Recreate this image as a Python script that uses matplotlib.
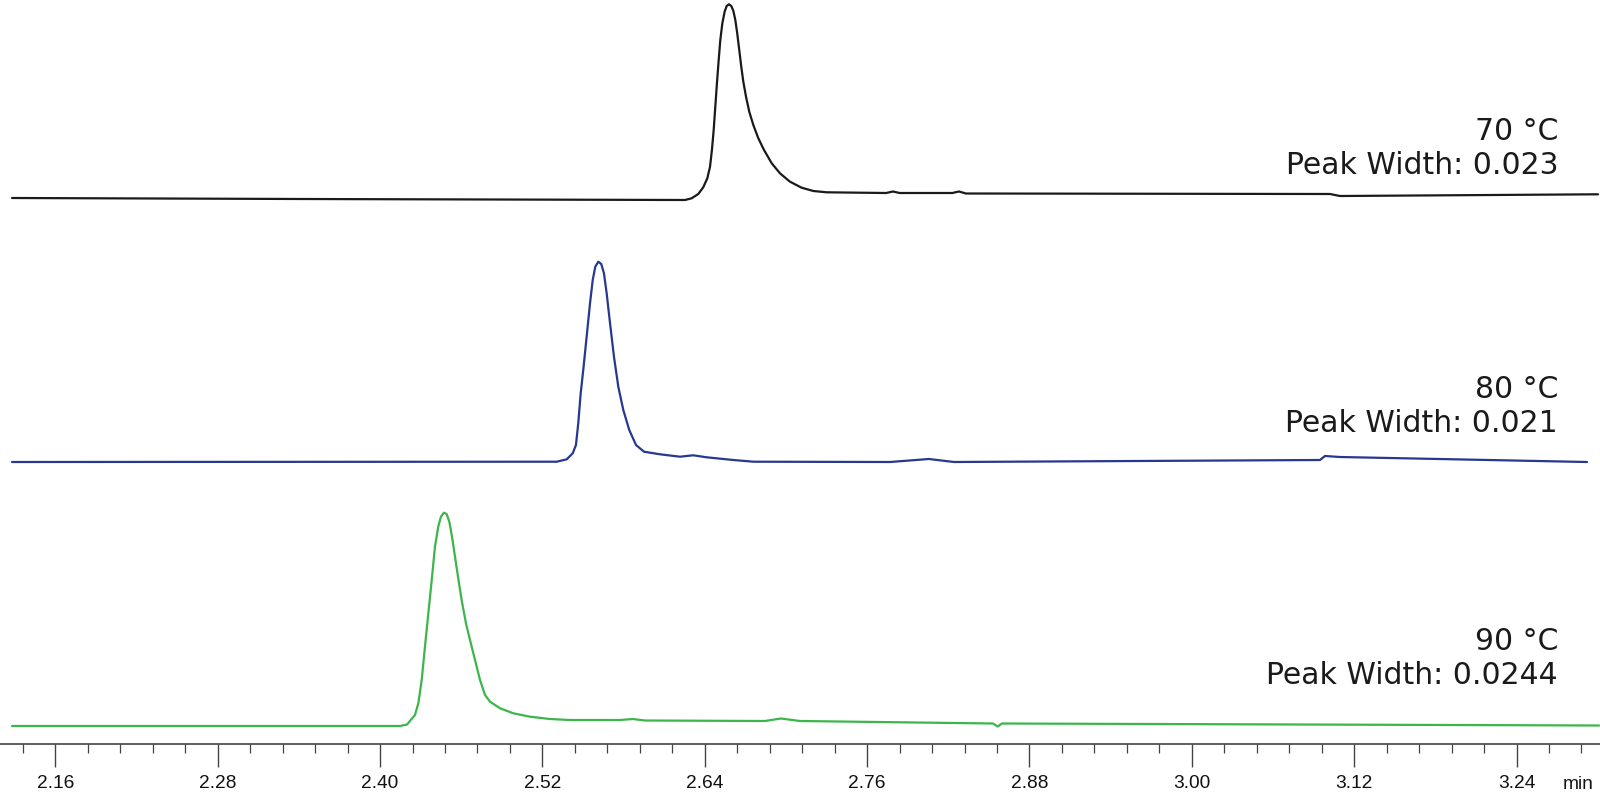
import matplotlib.pyplot as plt
from matplotlib.ticker import MultipleLocator, FormatStrFormatter

# --- data (time [min], signal [a.u.]) ---
t_70 = [2.128, 2.341, 2.6254, 2.6303, 2.6352, 2.6389, 2.6419, 2.6439, 2.6453,
        2.6466, 2.6478, 2.6490, 2.6503, 2.6515, 2.6530, 2.6547, 2.6562, 2.6579,
        2.6596, 2.6611, 2.6626, 2.6640, 2.6655, 2.6670, 2.6685, 2.6705, 2.6729,
        2.6759, 2.6796, 2.6838, 2.6895, 2.6956, 2.7030, 2.7116, 2.7202, 2.7301,
        2.7547, 2.7740, 2.7791, 2.7840, 2.8230, 2.8279, 2.8330, 3.1021, 3.1095,
        3.3002]
s_70 = [2, 1, 0, 1.7, 6, 12.7, 21.7, 33.3, 50,
        70, 93.3, 116.7, 140, 160, 176.7, 188.3, 194, 195.7,
        194, 189.3, 180, 166.7, 150, 133.3, 118.3, 103.3, 88.3,
        75, 61.7, 50, 36.7, 26.7, 18.3, 12.3, 9, 7.7,
        7.3, 7, 8.5, 7, 7, 8.5, 6.5, 6, 4,
        5.7]

t_80 = [2.128, 2.5306, 2.5380, 2.5424, 2.5448, 2.5465, 2.5483, 2.5502, 2.5527,
        2.5552, 2.5572, 2.5591, 2.5613, 2.5635, 2.5655, 2.5675, 2.5700, 2.5729,
        2.5761, 2.5798, 2.5842, 2.5892, 2.5951, 2.6069, 2.6217, 2.6315, 2.6414,
        2.6611, 2.6759, 2.7769, 2.8057, 2.8242, 3.0947, 3.0984, 3.1095, 3.2921]
s_80 = [0, 0.3, 2.7, 8.7, 17, 38.7, 68.7, 92, 125.3,
        158.7, 182, 195.3, 200.3, 198, 188.7, 168.7, 138.7, 105.3,
        75.3, 52, 32, 17, 10.3, 7.7, 5.3, 6.7, 4.7,
        2, 0.3, 0, 3, 0, 2, 6, 5, 0]

t_90 = [2.128, 2.4147, 2.4200, 2.4221, 2.4258, 2.4283, 2.4308, 2.4332, 2.4357,
        2.4382, 2.4406, 2.4430, 2.4450, 2.4472, 2.4492, 2.4512, 2.4532, 2.4554,
        2.4578, 2.4603, 2.4635, 2.4665, 2.4702, 2.4739, 2.4776, 2.4813, 2.4887,
        2.4985, 2.5108, 2.5256, 2.5404, 2.5773, 2.5869, 2.5958, 2.6845, 2.6963,
        2.7104, 2.8530, 2.8565, 2.8597, 3.3010]
s_90 = [0, 0, 1.5, 5, 11, 22.7, 46, 79.3, 112.7,
        146, 179.3, 199.3, 209.3, 213.3, 212, 204.3, 189.3, 169.3,
        147.7, 126, 102.7, 86, 66, 46, 31, 24.3, 17.7,
        12.7, 9.3, 7, 6, 6, 7, 5.5, 5, 7.5,
        5, 2.5, -0.5, 2.5, 0.5]

temps = ["70 °C", "80 °C", "90 °C"]
widths = ["0.023", "0.021", "0.0244"]

# --- layout / style ---
offsets = [544, 282, 18]
label_y = [(604, 570), (345.5, 312.5), (93.5, 59.5)]
colors = ["#1a1a1a", "#26388f", "#3cb54a"]
traces = [(t_70, s_70), (t_80, s_80), (t_90, s_90)]

fig = plt.figure(figsize=(16, 8), dpi=100)
ax = fig.add_axes([0, 56 / 800, 1, 744 / 800])

for (t, s), off, c in zip(traces, offsets, colors):
    ax.plot(t, [v + off for v in s], color=c, lw=1.6,
            solid_joinstyle="round", solid_capstyle="round")

for temp, w, (y1, y2) in zip(temps, widths, label_y):
    ax.text(1558 / 1600, y1, temp, transform=ax.get_yaxis_transform(),
            ha="right", va="baseline", fontsize=21.5, color="#1a1a1a",
            family="DejaVu Sans")
    ax.text(1558 / 1600, y2, "Peak Width: " + w, transform=ax.get_yaxis_transform(),
            ha="right", va="baseline", fontsize=21.5, color="#1a1a1a",
            family="DejaVu Sans")

ax.set_xlim(2.1191, 3.3017)
ax.set_ylim(0, 744)
for side in ("left", "right", "top"):
    ax.spines[side].set_visible(False)
ax.spines["bottom"].set_color("#333333")
ax.spines["bottom"].set_linewidth(1.1)
ax.set_yticks([])

ax.xaxis.set_major_locator(MultipleLocator(0.12))
ax.xaxis.set_minor_locator(MultipleLocator(0.024))
ax.xaxis.set_major_formatter(FormatStrFormatter("%.2f"))
ax.tick_params(axis="x", which="major", length=16.6, width=1.0, color="#444444",
               pad=5.4, labelsize=13.8, labelcolor="#111111")
ax.tick_params(axis="x", which="minor", length=6.7, width=0.9, color="#444444")
for lab in ax.get_xticklabels():
    lab.set_family("Liberation Sans")

fig.text(1578 / 1600, 11 / 800, "min", ha="center", va="baseline",
         fontsize=13.8, color="#111111", family="Liberation Sans")

fig.savefig("out.png", dpi=100)
